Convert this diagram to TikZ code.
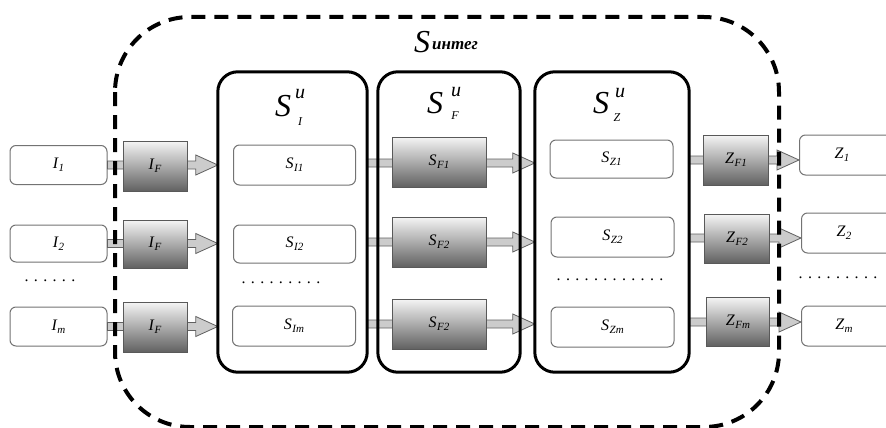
\documentclass[tikz,border=0pt]{standalone}
\usepackage{fontspec}
\setmainfont{Liberation Serif}
\usetikzlibrary{calc}

% subscripted italic label: #1 main letter, #2 subscript
\newcommand\sublbl[2]{\itshape\fontsize{16}{18}\selectfont #1\kern0.5pt\raisebox{-3pt}{\fontsize{11}{12}\selectfont #2}}

% fat grey arrow running horizontally from #1 to the x of #2
\newcommand\fatarrow[2]{%
  \draw[fatarr] let \p1=(#1), \p2=(#2) in
    (\x1,\y1+4pt) -- (\x2-22pt,\y1+4pt) -- (\x2-22pt,\y1+10pt) -- (\x2,\y1)
    -- (\x2-22pt,\y1-10pt) -- (\x2-22pt,\y1-4pt) -- (\x1,\y1-4pt) -- cycle;}

\tikzset{
  outerframe/.style={draw=black, line width=4pt, dash pattern=on 14pt off 9pt, rounded corners=75pt},
  block/.style={draw=black, line width=3pt, rounded corners=20pt},
  plainbox/.style={draw=black!55, line width=1pt, rounded corners=6pt, fill=white,
    inner sep=0pt, minimum width=#1},
  plainbox/.default=97pt,
  gradbox/.style={draw=black!65, line width=0.9pt, inner sep=0pt,
    top color=black!4, middle color=black!25, bottom color=black!62},
  fatarr/.style={draw=black!62, line width=0.8pt, fill=black!20},
  dotrow/.style={font=\fontsize{16}{18}\selectfont, inner sep=0pt},
  bigS/.style={font=\itshape\fontsize{32}{34}\selectfont, inner sep=0pt},
  supu/.style={font=\itshape\fontsize{20}{22}\selectfont, inner sep=0pt},
  subl/.style={font=\itshape\fontsize{12}{14}\selectfont, inner sep=0pt},
}

\begin{document}
\begin{tikzpicture}[x=1pt, y=-1pt]
\useasboundingbox (0,0) rectangle (886,428);

% ---- big blocks (placeholders; frames drawn later on top) ----
\node[inner sep=0pt, minimum width=149pt, minimum height=300pt] (SIu) at (292.5,222) {};
\node[inner sep=0pt, minimum width=142pt, minimum height=300pt] (SFu) at (449,222) {};
\node[inner sep=0pt, minimum width=154pt, minimum height=300pt] (SZu) at (612,222) {};

% ---- input column ----
\node[plainbox, minimum height=39pt] (I1) at (58.5,165) {\sublbl{I}{1}};
\node[plainbox, minimum height=37pt] (I2) at (58.5,243.5) {\sublbl{I}{2}};
\node[plainbox, minimum height=39pt] (Im) at (58.5,326.5) {\sublbl{I}{m}};
\node[dotrow] (dI) at (50,281) {.\,\,.\,\,.\,\,.\,\,.\,\,.};

% ---- arrows ----
\fatarrow{I1.east}{SIu.west}
\fatarrow{I2.east}{SIu.west}
\fatarrow{Im.east}{SIu.west}

\coordinate (m1) at (SIu.east |- 0,163);
\coordinate (m2) at (SIu.east |- 0,242);
\coordinate (m3) at (SIu.east |- 0,324);
\fatarrow{m1}{SZu.west}
\fatarrow{m2}{SZu.west}
\fatarrow{m3}{SZu.west}

% ---- output column ----
\node[plainbox=95pt, minimum height=40pt, anchor=west] (Z1) at (799,155) {\hspace*{-10pt}\sublbl{Z}{1}};
\node[plainbox=95pt, minimum height=40pt, anchor=west] (Z2) at (801,233) {\hspace*{-10pt}\sublbl{Z}{2}};
\node[plainbox=95pt, minimum height=40pt, anchor=west] (Zm) at (801,326) {\hspace*{-10pt}\sublbl{Z}{m}};
\node[dotrow] (dZ) at (838,278) {.\,\,.\,\,.\,\,.\,\,.\,\,.\,\,.\,\,.\,\,.};

\coordinate (r1) at (SZu.east |- 0,160);
\coordinate (r2) at (SZu.east |- 0,238);
\coordinate (r3) at (SZu.east |- 0,322);
\fatarrow{r1}{Z1.west}
\fatarrow{r2}{Z2.west}
\fatarrow{r3}{Zm.west}

% ---- shaded filter boxes ----
\node[gradbox, minimum width=64pt, minimum height=50pt] (IF1) at (155,166) {\sublbl{I}{F}};
\node[gradbox, minimum width=64pt, minimum height=48pt] (IF2) at (155,244) {\sublbl{I}{F}};
\node[gradbox, minimum width=64pt, minimum height=50pt] (IF3) at (155,327) {\sublbl{I}{F}};

\node[gradbox, minimum width=94pt, minimum height=50pt] (SF1) at (439,162) {\sublbl{S}{F1}};
\node[gradbox, minimum width=94pt, minimum height=50pt] (SF2) at (439,242) {\sublbl{S}{F2}};
\node[gradbox, minimum width=94pt, minimum height=50pt] (SF3) at (439,324) {\sublbl{S}{F2}};

\node[gradbox, minimum width=65pt, minimum height=50pt] (ZF1) at (736,160) {\sublbl{Z}{F1}};
\node[gradbox, minimum width=65pt, minimum height=49pt] (ZF2) at (737,238.5) {\sublbl{Z}{F2}};
\node[gradbox, minimum width=63pt, minimum height=49pt] (ZF3) at (738,321.5) {\sublbl{Z}{Fm}};

% ---- inner boxes ----
\node[plainbox=122pt, minimum height=40pt] (SI1) at (294.5,165) {\sublbl{S}{I1}};
\node[plainbox=122pt, minimum height=38pt] (SI2) at (294.5,244) {\sublbl{S}{I2}};
\node[plainbox=123pt, minimum height=40pt] (SIm) at (294,326) {\sublbl{S}{Im}};
\node[dotrow] (dSI) at (281,283) {.\,\,.\,\,.\,\,.\,\,.\,\,.\,\,.\,\,.\,\,.};

\node[plainbox=123pt, minimum height=38pt] (SZ1) at (611.5,159) {\sublbl{S}{Z1}};
\node[plainbox=123pt, minimum height=40pt] (SZ2) at (612.5,237) {\sublbl{S}{Z2}};
\node[plainbox=123pt, minimum height=40pt] (SZm) at (612.5,327) {\sublbl{S}{Zm}};
\node[dotrow] (dSZ) at (610,280) {.\,\,.\,\,.\,\,.\,\,.\,\,.\,\,.\,\,.\,\,.\,\,.\,\,.\,\,.};

% ---- frames drawn on top ----
\draw[block] (SIu.north west) rectangle (SIu.south east);
\draw[block] (SFu.north west) rectangle (SFu.south east);
\draw[block] (SZu.north west) rectangle (SZu.south east);
\draw[outerframe] (115,17) rectangle (779,427);

% ---- titles ----
\node[bigS] (tS) at (422,42) {S};
\node[inner sep=0pt, anchor=base west, font=\itshape\bfseries\fontsize{17}{19}\selectfont] (tSub) at (432,50) {интег};

\node[bigS] (tI) at (283,106) {S};
\node[supu] (tIu) at (300,94) {u};
\node[subl] (tIs) at (300,122) {I};

\node[bigS] (tF) at (435,103) {S};
\node[supu] (tFu) at (456,92) {u};
\node[subl] (tFs) at (455,116) {F};

\node[bigS] (tZ) at (601,103) {S};
\node[supu] (tZu) at (620,93) {u};
\node[subl] (tZs) at (617,118) {Z};
\end{tikzpicture}
\end{document}
